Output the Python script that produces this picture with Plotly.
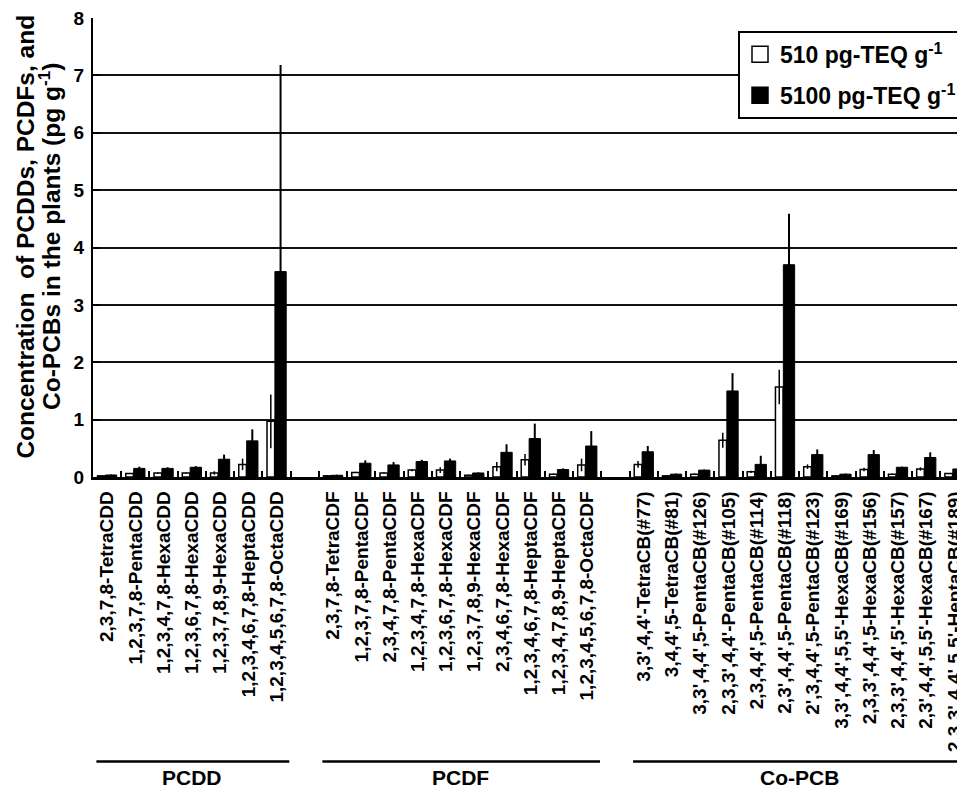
import plotly.graph_objects as go

# ---- data ----
pcdd_labels = ["2,3,7,8-TetraCDD", "1,2,3,7,8-PentaCDD", "1,2,3,4,7,8-HexaCDD",
               "1,2,3,6,7,8-HexaCDD", "1,2,3,7,8,9-HexaCDD", "1,2,3,4,6,7,8-HeptaCDD",
               "1,2,3,4,5,6,7,8-OctaCDD"]
pcdf_labels = ["2,3,7,8-TetraCDF", "1,2,3,7,8-PentaCDF", "2,3,4,7,8-PentaCDF",
               "1,2,3,4,7,8-HexaCDF", "1,2,3,6,7,8-HexaCDF", "1,2,3,7,8,9-HexaCDF",
               "2,3,4,6,7,8-HexaCDF", "1,2,3,4,6,7,8-HeptaCDF", "1,2,3,4,7,8,9-HeptaCDF",
               "1,2,3,4,5,6,7,8-OctaCDF"]
pcb_labels = ["3,3',4,4'-TetraCB(#77)", "3,4,4',5-TetraCB(#81)", "3,3',4,4',5-PentaCB(#126)",
              "2,3,3',4,4'-PentaCB(#105)", "2,3,4,4',5-PentaCB(#114)", "2,3',4,4',5-PentaCB(#118)",
              "2',3,4,4',5-PentaCB(#123)", "3,3',4,4',5,5'-HexaCB(#169)", "2,3,3',4,4',5-HexaCB(#156)",
              "2,3,3',4,4',5'-HexaCB(#157)", "2,3',4,4',5,5'-HexaCB(#167)", "2,3,3',4,4',5,5'-HeptaCB(#189)"]

pcdd_low = [0.02, 0.06, 0.07, 0.07, 0.07, 0.22, 0.97]
pcdd_low_err = [0.01, 0.01, 0.01, 0.01, 0.03, 0.10, 0.47]
pcdd_high = [0.035, 0.15, 0.15, 0.17, 0.31, 0.63, 3.58]
pcdd_high_err = [0.01, 0.03, 0.02, 0.02, 0.08, 0.20, 3.60]

pcdf_low = [0.02, 0.08, 0.07, 0.12, 0.12, 0.03, 0.18, 0.30, 0.05, 0.21]
pcdf_low_err = [0.01, 0.01, 0.01, 0.02, 0.05, 0.01, 0.08, 0.10, 0.01, 0.11]
pcdf_high = [0.03, 0.24, 0.21, 0.27, 0.28, 0.07, 0.43, 0.67, 0.13, 0.54]
pcdf_high_err = [0.01, 0.05, 0.05, 0.03, 0.04, 0.01, 0.14, 0.26, 0.02, 0.26]

pcb_low = [0.22, 0.02, 0.05, 0.64, 0.09, 1.57, 0.18, 0.02, 0.13, 0.05, 0.14, 0.06]
pcb_low_err = [0.06, 0.01, 0.01, 0.13, 0.02, 0.30, 0.04, 0.01, 0.03, 0.01, 0.03, 0.01]
pcb_high = [0.44, 0.05, 0.12, 1.50, 0.22, 3.70, 0.39, 0.05, 0.39, 0.17, 0.34, 0.14]
pcb_high_err = [0.10, 0.01, 0.01, 0.31, 0.15, 0.89, 0.09, 0.01, 0.08, 0.01, 0.09, 0.02]

group_names = ["PCDD", "PCDF", "Co-PCB"]
series_names = ["510 pg-TEQ g<sup>-1</sup>", "5100 pg-TEQ g<sup>-1</sup>"]
series_fill = ["white", "black"]
y_ticks = [0, 1, 2, 3, 4, 5, 6, 7, 8]
y_title_lines = ["Concentration  of PCDDs, PCDFs, and",
                 "Co-PCBs in the plants (pg g<sup>-1</sup>)"]

# categories with blank spacer categories between groups
spacer1, spacer2 = " ", "  "
categories = pcdd_labels + [spacer1] + pcdf_labels + [spacer2] + pcb_labels
low = pcdd_low + [None] + pcdf_low + [None] + pcb_low
low_err = pcdd_low_err + [None] + pcdf_low_err + [None] + pcb_low_err
high = pcdd_high + [None] + pcdf_high + [None] + pcb_high
high_err = pcdd_high_err + [None] + pcdf_high_err + [None] + pcb_high_err

FONT = "Liberation Sans, Arial, Helvetica, sans-serif"

fig = go.Figure()
fig.add_trace(go.Bar(
    x=categories, y=low, name=series_names[0], showlegend=False,
    marker=dict(color=series_fill[0], line=dict(color="black", width=1.5)),
    offset=-0.34, width=0.27,
    error_y=dict(type="data", array=low_err, visible=True, color="black",
                 thickness=1.5, width=0),
))
fig.add_trace(go.Bar(
    x=categories, y=high, name=series_names[1], showlegend=False,
    marker=dict(color=series_fill[1], line=dict(color="black", width=1)),
    offset=-0.06, width=0.40,
    error_y=dict(type="data", array=high_err, visible=True, color="black",
                 thickness=2, width=0),
))
# legend entries with larger square symbols
for i, (nm, fc) in enumerate(zip(series_names, series_fill)):
    fig.add_trace(go.Scatter(
        x=[None], y=[None], mode="markers", name=nm, legendgroup="g%d" % i,
        marker=dict(symbol="square", size=16, color=fc, line=dict(color="black", width=1.5)),
    ))

# group underlines and labels
n1, n2 = len(pcdd_labels), len(pcdf_labels)
starts = [0, n1 + 1, n1 + n2 + 2]
ends = [n1 - 1, n1 + n2, len(categories) - 1]
for name, s, e in zip(group_names, starts, ends):
    fig.add_shape(type="line", xref="x", yref="paper",
                  x0=s - 0.38, x1=e + 0.45, y0=-0.62, y1=-0.62,
                  line=dict(color="black", width=2.5))
    fig.add_annotation(xref="x", yref="paper", x=(s + e) / 2, y=-0.655,
                       text="<b>%s</b>" % name, showarrow=False,
                       font=dict(size=21, color="black", family=FONT),
                       yanchor="middle", xanchor="center")

# y-axis title, two rotated lines
for line_text, xp in zip(y_title_lines, [-0.078, -0.050]):
    fig.add_annotation(xref="paper", yref="paper", x=xp, y=0.524,
                       text="<b>%s</b>" % line_text, showarrow=False, textangle=-90,
                       font=dict(size=24.5, color="black", family=FONT),
                       xanchor="center", yanchor="middle")

# page body has an 8px default margin: figure is sized so plot area lands as in reference
fig.update_layout(
    width=957, height=784,
    margin=dict(l=85, r=0, t=9, b=315),
    paper_bgcolor="white", plot_bgcolor="white",
    font=dict(family=FONT, color="black"),
    barmode="overlay",
    showlegend=True,
    legend=dict(x=1, xanchor="right", y=0.972, yanchor="top",
                bgcolor="white", bordercolor="black", borderwidth=2,
                font=dict(size=23, family=FONT, color="black", weight="bold"),
                tracegroupgap=8, traceorder="grouped", itemwidth=30),
    xaxis=dict(
        type="category", categoryorder="array", categoryarray=categories,
        range=[-0.5, len(categories) - 0.7],
        tickson="boundaries", ticks="inside", ticklen=6, tickwidth=2, tickcolor="black",
        tickangle=-90, tickfont=dict(size=19, family=FONT, color="black", weight="bold"),
        showline=True, linecolor="black", linewidth=2.5,
        showgrid=False, zeroline=False, ticklabelstandoff=4,
        ticklabeloverflow="allow",
    ),
    yaxis=dict(
        range=[0, 8], tickvals=y_ticks,
        ticks="inside", ticklen=7, tickwidth=2, tickcolor="black",
        tickfont=dict(size=19, family=FONT, color="black", weight="bold"),
        showline=True, linecolor="black", linewidth=2,
        showgrid=True, gridcolor="#111111", gridwidth=2,
        zeroline=False, ticklabelstandoff=3, ticklabeloverflow="allow",
    ),
)

fig.write_html("out.html")
